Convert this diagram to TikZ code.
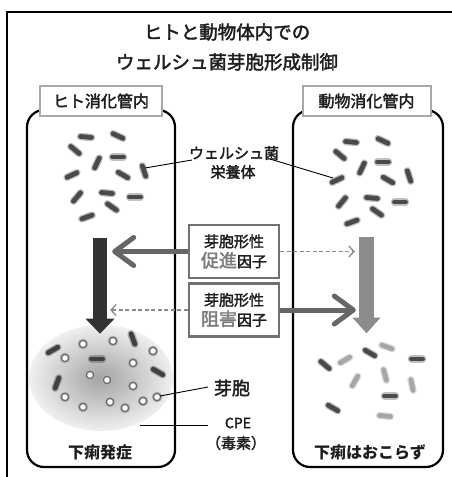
\documentclass[tikz,border=0pt]{standalone}
\usepackage{fontspec}
\newfontfamily\jp[FakeBold=2.2]{Noto Sans CJK JP}
\newfontfamily\jpbold{Noto Sans CJK JP}
\usetikzlibrary{arrows.meta}

\definecolor{ink}{HTML}{1E1E1E}
\definecolor{rodc}{HTML}{4A4A4A}
\definecolor{rodlight}{HTML}{A6A6A6}
\definecolor{labelframe}{HTML}{A8A8A8}
\definecolor{factorframe}{HTML}{727272}
\definecolor{factorword}{HTML}{7C7C7C}
\definecolor{solidarrow}{HTML}{666666}
\definecolor{dasharrow}{HTML}{8A8A8A}
\definecolor{darkbar}{HTML}{333333}
\definecolor{lightbar}{HTML}{8C8C8C}

\newcommand{\fsz}[1]{\fontsize{#1}{#1}\selectfont}
% a blurred rod-shaped cell: position, screen angle (clockwise), colour
\newcommand{\rodat}[3][rodc]{%
  \draw[#1, line width=7.4pt, line cap=round, opacity=.35] (#2) ++(#3:-5.5) -- ++(#3:11);
  \draw[#1, line width=4.8pt, line cap=round] (#2) ++(#3:-5.5) -- ++(#3:11);}
% a spore: white core with a dark soft rim
\newcommand{\sporeat}[1]{%
  \fill[gray!55] (#1) circle (5.4);
  \fill[gray!85!black] (#1) circle (4.4);
  \fill[white] (#1) circle (2.8);}

\begin{document}
\begin{tikzpicture}[x=1pt,y=-1pt,
  txt/.style={font=\jp\fsz{15}, text=ink, inner sep=0pt},
  tube/.style={draw=black, line width=2.2pt, rounded corners=17pt},
  placebox/.style={draw=labelframe, line width=2pt, fill=white, inner sep=0pt,
    minimum height=30pt, font=\jp\fsz{16}, text=ink},
  factorbox/.style={draw=factorframe, line width=2.4pt, fill=white, inner sep=0pt,
    minimum width=90pt, minimum height=53pt, align=center,
    font=\jp\fontsize{15}{20}\selectfont, text=ink},
  bigarrow/.style={draw=solidarrow, line width=5pt,
    -{Straight Barb[length=19pt, width=28pt, round]}},
  hintarrow/.style={draw=dasharrow, line width=1.3pt, dash pattern=on 4pt off 2.5pt,
    -{Straight Barb[length=5pt, width=11pt]}},
  leader/.style={draw=black, line width=0.9pt},
  result/.style={font=\jpbold\bfseries\fsz{16}, text=ink, inner sep=0pt}]
\useasboundingbox (0,0) rectangle (451,477);

% outer frame (open towards the right and the bottom)
\draw[line width=1.6pt] (452,12) -- (7,12) -- (7,478);

% title
\node[txt, font=\jp\fsz{18.5}] (title1) at (227,32) {ヒトと動物体内での};
\node[txt, font=\jp\fsz{18.5}] (title2) at (227,62) {ウェルシュ菌芽胞形成制御};

% the two gut tubes
\draw[tube] (27,110) rectangle (175,467);
\draw[tube] (293,110) rectangle (443,467);
\node[placebox, minimum width=122pt] (human) at (101,101) {ヒト消化管内};
\node[placebox, minimum width=128pt] (animal) at (366.5,101) {動物消化管内};

% vegetative cells in both tubes
\foreach \s in {0,1}{
  \begin{scope}[shift={(265*\s,5*\s)}]
    \rodat{86,137}{5}
    \rodat{118,136}{25}
    \rodat{75,150}{40}
    \rodat{97,163}{-65}
    \rodat{118,157}{0}
    \rodat{144,171}{72}
    \rodat{72,175}{-25}
    \rodat{123,175}{30}
    \rodat{77,197}{-50}
    \rodat{107,193}{5}
    \rodat{135,197}{0}
    \rodat{112,207}{35}
    \rodat{87,217}{-20}
  \end{scope}}

\node[txt] (veg1) at (234,153) {ウェルシュ菌};
\node[txt] (veg2) at (233,172) {栄養体};
\coordinate (vegL) at (145,168);
\coordinate (vegLend) at (192,160);
\coordinate (vegR) at (333,178);
\coordinate (vegRend) at (270,159);
\draw[leader] (vegL) -- (vegLend);
\draw[leader] (vegRend) -- (vegR);

% sporulation blob with toxin in the human gut
\shade[inner color=gray!72, outer color=gray!12] (101,378) ellipse (72 and 53);
\rodat[black!75]{53,350}{-30}
\rodat[black!75]{97,359}{0}
\rodat[black!75]{133,339}{70}
\rodat[black!75]{158,372}{30}
\rodat[black!75]{57,383}{-70}
\foreach \px/\py in {83/344,113/341,153/351,65/358,133/363,90/375,107/380,
  133/386,65/397,157/397,143/401,110/402,125/408,83/407}
  {\sporeat{\px,\py}}

\node[txt, font=\jp\fsz{18}] (spore) at (232,388) {芽胞};
\node[txt, font=\jp\fsz{14}] (cpe) at (238,423) {CPE};
\node[txt] (toxin) at (236,443) {（毒素）};
\coordinate (sporeL) at (160,396);
\coordinate (sporeLend) at (208,387);
\coordinate (cpeL) at (140,425);
\coordinate (cpeLend) at (208,425);
\draw[leader] (sporeL) -- (sporeLend);
\draw[leader] (cpeL) -- (cpeLend);

% cells in the animal gut, few of them still dark
\rodat{325,365}{40}
\rodat[rodlight]{345,360}{-30}
\rodat{370,353}{30}
\rodat[rodlight]{387,347}{20}
\rodat{417,359}{0}
\rodat[rodlight]{355,381}{-60}
\rodat[rodlight]{385,375}{75}
\rodat[rodlight]{412,385}{78}
\rodat{390,396}{0}
\rodat{333,408}{30}
\rodat[rodlight]{385,416}{5}

% downward block arrows
\node[fill=darkbar, minimum width=14pt, minimum height=81pt, inner sep=0pt] (lbar) at (100,278.5) {};
\fill[darkbar] (lbar.south) ++(-14.5,-0.5) -- ++(29,0) -- ++(-14.5,15) -- cycle;
\node[fill=lightbar, minimum width=15pt, minimum height=81pt, inner sep=0pt] (rbar) at (366.5,277.5) {};
\fill[lightbar] (rbar.south) ++(-14,-0.5) -- ++(28,0) -- ++(-14,15.5) -- cycle;

% factor boxes
\node[factorbox] (pro) at (234,251.5) {芽胞形性\\{\fsz{18}\color{factorword}促進}因子};
\node[factorbox] (inh) at (234,310) {芽胞形性\\{\fsz{18}\color{factorword}阻害}因子};

\draw[bigarrow, shorten >=5pt] (pro.west) -- (lbar.east |- pro.west);
\draw[hintarrow, shorten >=4pt] (pro.east) -- (rbar.west |- pro.east);
\draw[hintarrow, shorten >=3pt] (inh.west) -- (lbar.east |- inh.west);
\draw[bigarrow, shorten >=3pt] (inh.east) -- (rbar.west |- inh.east);

% outcomes
\node[result] (diarrhea) at (100,452) {下痢発症};
\node[result] (nodiarrhea) at (370,452) {下痢はおこらず};
\end{tikzpicture}
\end{document}
